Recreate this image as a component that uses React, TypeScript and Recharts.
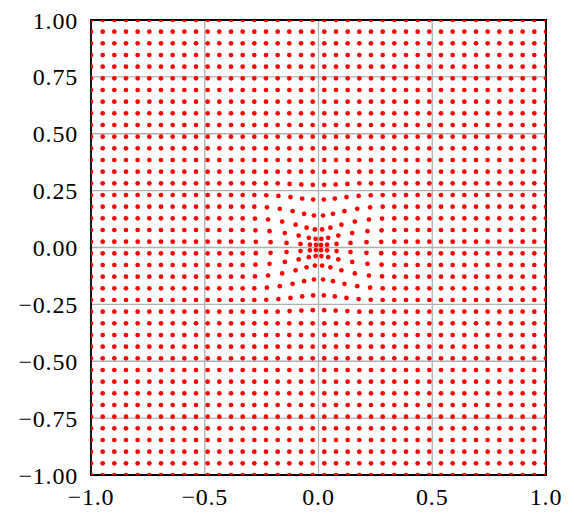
import { CartesianGrid, Scatter, ScatterChart, XAxis, YAxis } from "recharts"

const meshValues = [
  -1.0, -0.9487, -0.8974, -0.8462, -0.7949, -0.7436, -0.6923, -0.641, -0.5897, -0.5385,
  -0.4872, -0.4359, -0.3846, -0.3333, -0.2821, -0.2308, -0.1795, -0.1282, -0.0769, -0.0256,
  0.0256, 0.0769, 0.1282, 0.1795, 0.2308, 0.2821, 0.3333, 0.3846, 0.4359, 0.4872,
  0.5385, 0.5897, 0.641, 0.6923, 0.7436, 0.7949, 0.8462, 0.8974, 0.9487, 1.0,
]

// points pulled towards the origin (upper right quadrant, mirrored to the others)
// [column from centre, row from centre, x, y]
const centreShift: [number, number, number, number][] = [
  [0, 0, 0.0112, 0.0112],
  [0, 1, 0.0126, 0.0377],
  [1, 0, 0.0377, 0.0126],
  [1, 1, 0.0426, 0.0426],
  [0, 2, 0.0159, 0.0793],
  [2, 0, 0.0793, 0.0159],
  [1, 2, 0.0523, 0.0871],
  [2, 1, 0.0871, 0.0523],
  [2, 2, 0.1005, 0.1005],
  [0, 3, 0.0201, 0.1406],
  [3, 0, 0.1406, 0.0201],
  [1, 3, 0.0635, 0.1481],
  [3, 1, 0.1481, 0.0635],
  [2, 3, 0.114, 0.1597],
  [3, 2, 0.1597, 0.114],
  [3, 3, 0.1702, 0.1702],
  [0, 4, 0.0234, 0.2108],
  [4, 0, 0.2108, 0.0234],
  [1, 4, 0.0717, 0.2152],
  [4, 1, 0.2152, 0.0717],
  [2, 4, 0.1231, 0.2216],
  [4, 2, 0.2216, 0.1231],
  [3, 4, 0.1764, 0.2268],
  [4, 3, 0.2268, 0.1764],
  [4, 4, 0.2296, 0.2296],
  [0, 5, 0.0251, 0.2756],
  [5, 0, 0.2756, 0.0251],
  [1, 5, 0.0756, 0.2772],
  [5, 1, 0.2772, 0.0756],
  [2, 5, 0.127, 0.2794],
  [5, 2, 0.2794, 0.127],
]

const xMajorTicks = [-1, -0.5, 0, 0.5, 1]
const xMinorTicks = [
  -1, -0.9, -0.8, -0.7, -0.6, -0.5, -0.4, -0.3, -0.2, -0.1, 0,
  0.1, 0.2, 0.3, 0.4, 0.5, 0.6, 0.7, 0.8, 0.9, 1,
]
const yMajorTicks = [-1, -0.75, -0.5, -0.25, 0, 0.25, 0.5, 0.75, 1]
const yMinorTicks = [
  -1, -0.95, -0.9, -0.85, -0.8, -0.75, -0.7, -0.65, -0.6, -0.55, -0.5,
  -0.45, -0.4, -0.35, -0.3, -0.25, -0.2, -0.15, -0.1, -0.05, 0,
  0.05, 0.1, 0.15, 0.2, 0.25, 0.3, 0.35, 0.4, 0.45, 0.5,
  0.55, 0.6, 0.65, 0.7, 0.75, 0.8, 0.85, 0.9, 0.95, 1,
]

const shiftLookup = new Map(centreShift.map(([c, r, x, y]) => [`${c},${r}`, [x, y]]))
const half = meshValues.length / 2

const points = meshValues.flatMap((mx, i) =>
  meshValues.map((my, j) => {
    const c = i >= half ? i - half : half - 1 - i
    const r = j >= half ? j - half : half - 1 - j
    const s = shiftLookup.get(`${c},${r}`)
    if (!s) return { x: mx, y: my }
    return { x: Math.sign(mx) * s[0], y: Math.sign(my) * s[1] }
  })
)

const fmt = (digits: number) => (v: number) =>
  (v < 0 ? "\u2212" : "") + Math.abs(v).toFixed(digits)

const font = "Liberation Serif"
const labelStyle = { fill: "#000", fontSize: 24, fontFamily: font, letterSpacing: 0.8 }
const frame = { stroke: "#000", strokeWidth: 1.8, strokeLinecap: "square" as const }
const majorLine = { stroke: "#000", strokeWidth: 1.6 }
const minorLine = { stroke: "#000", strokeWidth: 1.1 }

export default function App() {
  return (
    <div style={{ position: "absolute", left: 0, top: 0, width: 574, height: 521, background: "#fff" }}>
      <ScatterChart
        width={574}
        height={521}
        margin={{ top: 20, right: 28, bottom: 6, left: 0 }}
        style={{ fontFamily: font }}
      >
        <CartesianGrid xAxisId="x" yAxisId="y" stroke="#b0b0b0" strokeWidth={1.3} />

        <XAxis
          xAxisId="x"
          dataKey="x"
          type="number"
          domain={[-1, 1]}
          allowDataOverflow
          ticks={xMajorTicks}
          interval={0}
          tickFormatter={fmt(1)}
          tick={labelStyle}
          tickLine={false}
          axisLine={false}
          tickSize={0}
          tickMargin={13}
          height={40}
        />
        <YAxis
          yAxisId="y"
          dataKey="y"
          type="number"
          domain={[-1, 1]}
          allowDataOverflow
          ticks={yMajorTicks}
          interval={0}
          tickFormatter={fmt(2)}
          tick={labelStyle}
          tickLine={false}
          axisLine={false}
          tickSize={0}
          tickMargin={13}
          width={91}
        />

        <Scatter
          xAxisId="x"
          yAxisId="y"
          data={points}
          isAnimationActive={false}
          shape={(p: any) => <circle cx={p.cx} cy={p.cy} r={2.35} fill="#ff0000" />}
        />

        {/* inward ticks and frame on all four sides */}
        <XAxis xAxisId="bM" type="number" domain={[-1, 1]} ticks={xMajorTicks} interval={0}
          mirror tick={false} tickSize={7} tickLine={majorLine} axisLine={frame} />
        <XAxis xAxisId="bm" type="number" domain={[-1, 1]} ticks={xMinorTicks} interval={0}
          mirror tick={false} tickSize={3.5} tickLine={minorLine} axisLine={false} />
        <XAxis xAxisId="tM" orientation="top" type="number" domain={[-1, 1]} ticks={xMajorTicks} interval={0}
          mirror tick={false} tickSize={7} tickLine={majorLine} axisLine={frame} />
        <XAxis xAxisId="tm" orientation="top" type="number" domain={[-1, 1]} ticks={xMinorTicks} interval={0}
          mirror tick={false} tickSize={3.5} tickLine={minorLine} axisLine={false} />
        <YAxis yAxisId="lM" type="number" domain={[-1, 1]} ticks={yMajorTicks} interval={0}
          mirror tick={false} tickSize={7} tickLine={majorLine} axisLine={frame} />
        <YAxis yAxisId="lm" type="number" domain={[-1, 1]} ticks={yMinorTicks} interval={0}
          mirror tick={false} tickSize={3.5} tickLine={minorLine} axisLine={false} />
        <YAxis yAxisId="rM" orientation="right" type="number" domain={[-1, 1]} ticks={yMajorTicks} interval={0}
          mirror tick={false} tickSize={7} tickLine={majorLine} axisLine={frame} />
        <YAxis yAxisId="rm" orientation="right" type="number" domain={[-1, 1]} ticks={yMinorTicks} interval={0}
          mirror tick={false} tickSize={3.5} tickLine={minorLine} axisLine={false} />
      </ScatterChart>
    </div>
  )
}
